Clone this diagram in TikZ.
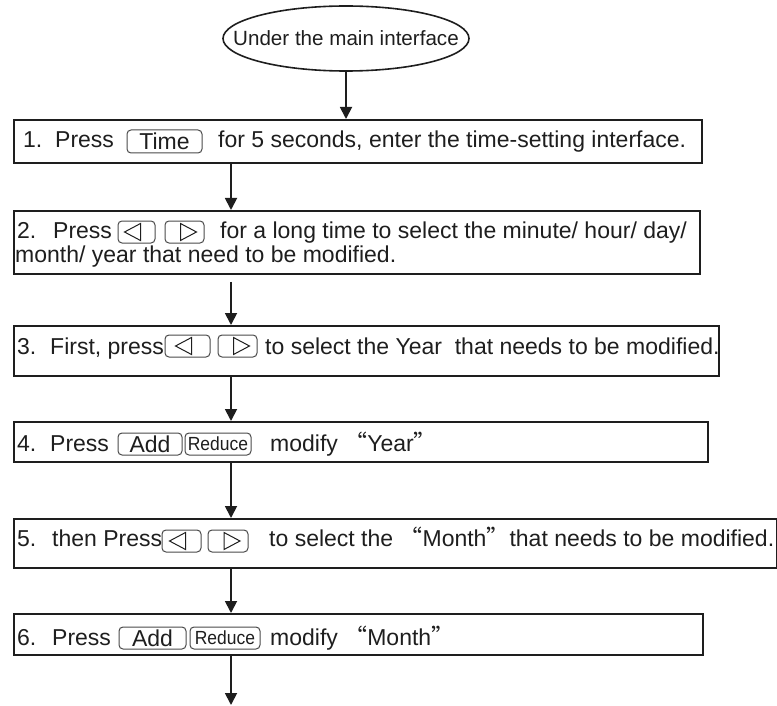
\documentclass[tikz,border=0pt]{standalone}
\usepackage{fontspec}
\setmainfont{Liberation Sans}
\newfontfamily\cjk{Noto Sans CJK SC}
\newfontfamily\narrowsans[FakeStretch=0.92]{Liberation Sans}
\usetikzlibrary{positioning, arrows.meta, shapes.geometric}

\definecolor{ink}{HTML}{1E1E1E}
\definecolor{keygray}{HTML}{4A4A4A}

\newcommand{\qt}[1]{{\cjk “}#1{\cjk ”}}
\newcommand{\lefttri}[1]{\draw[tri] ([xshift=-12pt]#1.center) -- ([xshift=4pt,yshift=8.5pt]#1.center) -- ([xshift=4pt,yshift=-8.5pt]#1.center) -- cycle;}
\newcommand{\righttri}[1]{\draw[tri] ([xshift=12pt]#1.center) -- ([xshift=-4pt,yshift=8.5pt]#1.center) -- ([xshift=-4pt,yshift=-8.5pt]#1.center) -- cycle;}

\tikzset{
  stepbox/.style={draw=ink, line width=1.8pt, anchor=north west, inner sep=0pt},
  btn/.style={draw=keygray, line width=1pt, rounded corners=4pt, inner sep=0pt},
  smallkey/.style={btn, font=\narrowsans\fontsize{19}{21}\selectfont},
  txt/.style={anchor=base west, inner sep=0pt},
  flow/.style={draw=ink, line width=1.8pt, -{Triangle[length=12pt,width=12pt]}},
  tri/.style={draw=ink, line width=1pt},
}

\begin{document}
\begin{tikzpicture}[x=1pt, y=-1pt, font=\fontsize{23}{27}\selectfont, text=ink]
\useasboundingbox (0,0) rectangle (777,706);

% start
\node[ellipse, draw=ink, line width=1.6pt, inner xsep=-30pt, inner ysep=0pt, minimum width=246pt, minimum height=65pt, font=\fontsize{20.6}{24}\selectfont] (start) at (346,38.5) {Under the main interface};

% the six steps
\node[stepbox, minimum width=688pt, minimum height=43pt] (s1) at (13,119) {};
\node[stepbox, minimum width=686pt, minimum height=63pt] (s2) at (13,210) {};
\node[stepbox, minimum width=705pt, minimum height=50pt] (s3) at (13,325) {};
\node[stepbox, minimum width=694pt, minimum height=40pt] (s4) at (13,421) {};
\node[stepbox, minimum width=763pt, minimum height=49pt] (s5) at (13,518) {};
\node[stepbox, minimum width=689pt, minimum height=41pt] (s6) at (13,613) {};

% step 1
\node[txt] (n1) at (23,148) {1.};
\node[txt] (p1) at (55,148) {Press};
\node[btn, minimum width=75pt, minimum height=23pt] (time) at (164.5,141.5) {Time};
\node[txt] (t1) at (218,148) {for 5 seconds, enter the time-setting interface.};

% step 2
\node[txt] (n2) at (17,238) {2.};
\node[txt] (p2) at (53,238) {Press};
\node[btn, minimum width=37pt, minimum height=22pt] (l2) at (136.5,232) {};
\node[btn, minimum width=39pt, minimum height=22pt] (r2) at (184.5,232) {};
\lefttri{l2}
\righttri{r2}
\node[txt] (t2) at (220,238) {for a long time to select the minute/ hour/ day/};
\node[txt] (t2b) at (15,262) {month/ year that need to be modified.};

% step 3
\node[txt] (n3) at (17,354) {3.};
\node[txt] (p3) at (50,354) {First, press};
\node[btn, minimum width=45pt, minimum height=22pt] (l3) at (187.5,346) {};
\node[btn, minimum width=39pt, minimum height=22pt] (r3) at (237.5,346) {};
\lefttri{l3}
\righttri{r3}
\node[txt] (t3) at (265,354) {to select the Year~ that needs to be modified.};

% step 4
\node[txt] (n4) at (17,451) {4.};
\node[txt] (p4) at (50,451) {Press};
\node[btn, minimum width=64pt, minimum height=22pt] (add4) at (150,444) {Add};
\node[smallkey, minimum width=66pt, minimum height=22pt] (red4) at (218,444) {Reduce};
\node[txt] (t4) at (270,451) {modify \qt{Year}};

% step 5
\node[txt] (n5) at (17,546) {5.};
\node[txt] (p5) at (52,546) {then Press};
\node[btn, minimum width=39pt, minimum height=22pt] (l5) at (181.5,541) {};
\node[btn, minimum width=40pt, minimum height=22pt] (r5) at (228,541) {};
\lefttri{l5}
\righttri{r5}
\node[txt] (t5) at (269,546) {to select the \qt{Month}that needs to be modified.};

% step 6
\node[txt] (n6) at (17,645) {6.};
\node[txt] (p6) at (52,645) {Press};
\node[btn, minimum width=67pt, minimum height=22pt] (add6) at (152.5,638) {Add};
\node[smallkey, minimum width=70pt, minimum height=22pt] (red6) at (225,638) {Reduce};
\node[txt] (t6) at (270,645) {modify \qt{Month}};

% connectors
\coordinate (ax) at (231,0);
\coordinate (end) at (231,705);
\draw[flow] (start.south) -- (start.south |- s1.north);
\draw[flow] (s1.south -| ax) -- (s2.north -| ax);
\draw[flow, shorten <=7pt] (s2.south -| ax) -- (s3.north -| ax);
\draw[flow] (s3.south -| ax) -- (s4.north -| ax);
\draw[flow] (s4.south -| ax) -- (s5.north -| ax);
\draw[flow] (s5.south -| ax) -- (s6.north -| ax);
\draw[flow] (s6.south -| ax) -- (end);
\end{tikzpicture}
\end{document}
